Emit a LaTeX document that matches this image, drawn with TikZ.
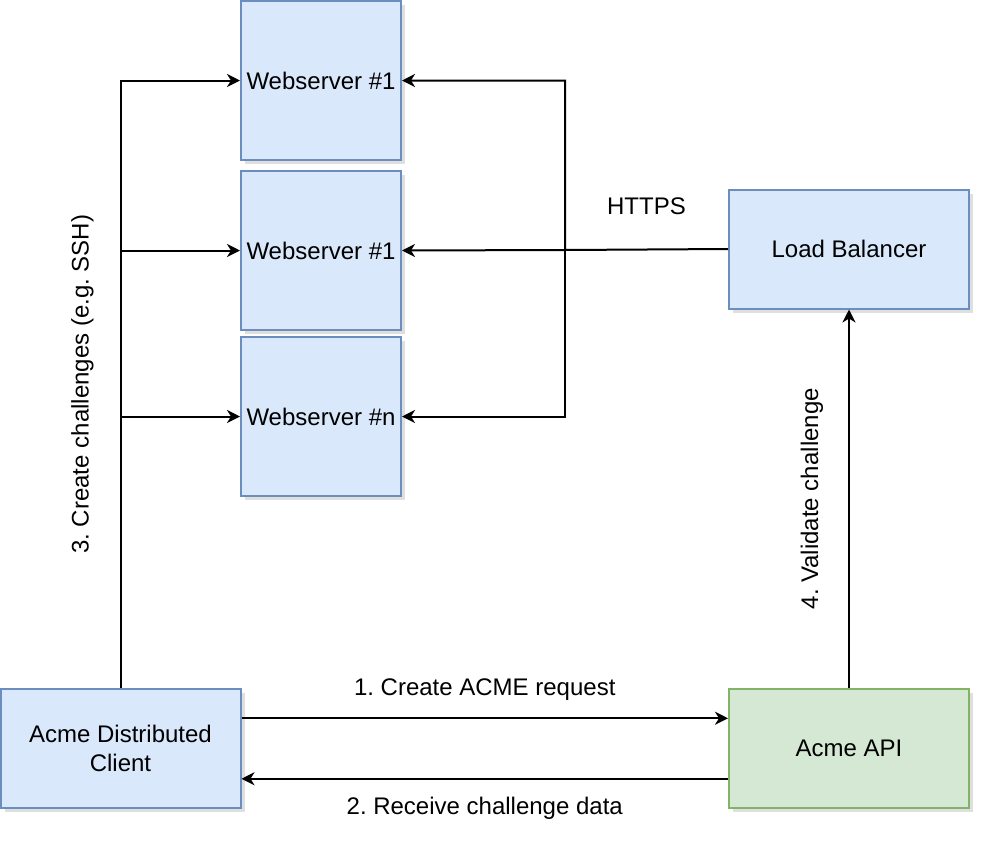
\documentclass[tikz,border=0pt]{standalone}
\usepackage{fontspec}
\setmainfont{Liberation Sans}
\usetikzlibrary{arrows.meta,calc,shadows}
\definecolor{bluefill}{HTML}{DAE8FC}
\definecolor{blueline}{HTML}{6C8EBF}
\definecolor{greenfill}{HTML}{D5E8D4}
\definecolor{greenline}{HTML}{82B366}
\frenchspacing

\begin{document}
\begin{tikzpicture}[x=0.5pt,y=-0.5pt,
    box/.style={draw=blueline,fill=bluefill,line width=1pt,
      drop shadow={shadow xshift=2pt,shadow yshift=-2pt,opacity=0.25},
      font=\fontsize{12}{14.4}\selectfont,align=center,inner sep=0pt},
    server/.style={box,minimum width=80pt,minimum height=79.5pt},
    wide/.style={box,minimum width=120pt,minimum height=59.5pt},
    arr/.style={line width=1pt,-{Stealth[length=6.5pt,width=6.5pt,inset=2pt]}},
    lbl/.style={font=\fontsize{12}{14.4}\selectfont,inner sep=0pt}]
  \useasboundingbox (0,0) rectangle (992,852);
  % servers
  \node[server] (ws1) at (321,80.5) {Webserver \#1};
  \node[server] (ws2) at (321,250.5) {Webserver \#1};
  \node[server] (wsn) at (321,416.5) {Webserver \#n};
  % other boxes
  \node[wide] (lb) at (849,249) {Load Balancer};
  \node[wide] (client) at (120.5,748.5) {Acme Distributed\\Client};
  \node[wide,draw=greenline,fill=greenfill] (api) at (849,748.5) {Acme API};
  \coordinate (hub) at (565,250);

  % client to the servers
  \draw[arr] (client.north) |- (ws1.west)
    node[lbl,pos=0.25,rotate=90,yshift=19pt] {3. Create challenges (e.g. SSH)};
  \draw[arr] (client.north |- ws2.west) -- (ws2.west);
  \draw[arr] (client.north |- wsn.west) -- (wsn.west);

  % load balancer to the servers
  \draw[arr] (lb.west) -- (hub) node[lbl,midway,yshift=21.5pt] {HTTPS} |- (ws1.east);
  \draw[arr] (hub) -- (ws2.east);
  \draw[arr] (hub) |- (wsn.east);

  % client and api
  \draw[arr] ($(client.north east)!0.25!(client.south east)$)
    -- ($(api.north west)!0.25!(api.south west)$)
    node[lbl,midway,yshift=14.5pt] {1. Create ACME request};
  \draw[arr] ($(api.north west)!0.75!(api.south west)$)
    -- ($(client.north east)!0.75!(client.south east)$)
    node[lbl,midway,yshift=-15pt] {2. Receive challenge data};
  \draw[arr] (api.north) -- (lb.south)
    node[lbl,midway,rotate=90,yshift=18.5pt] {4. Validate challenge};
\end{tikzpicture}
\end{document}
